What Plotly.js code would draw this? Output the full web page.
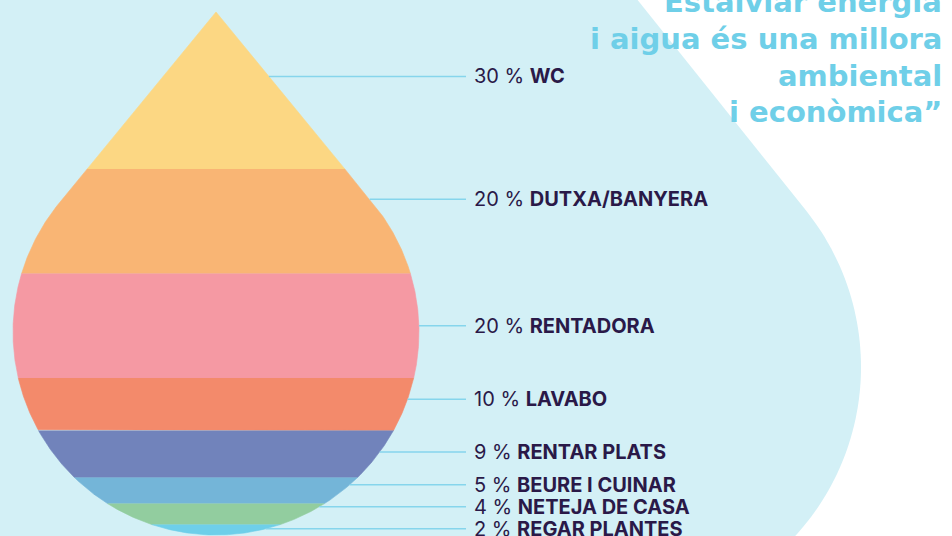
<!DOCTYPE html>
<html><head><meta charset="utf-8">
<script src="https://cdn.plot.ly/plotly-3.0.1.min.js"></script>
<style>html,body{margin:0;padding:0;background:#fff;overflow:hidden}#chart{width:952px;height:536px}</style>
</head><body><div id="chart"></div>
<script>
// ---- data ----
const categories = ['WC','DUTXA/BANYERA','RENTADORA','LAVABO','RENTAR PLATS','BEURE I CUINAR','NETEJA DE CASA','REGAR PLANTES'];
const shares = [30, 20, 20, 10, 9, 5, 4, 2];
const colors = ['#fcd783','#f9b574','#f599a3','#f38a6b','#7183bb','#74b5d8','#92cd9f','#6ecfe9'];
const quoteLines = ['Estalviar energia','i aigua és una millora','ambiental','i econòmica”'];

// ---- layout geometry ----
const W = 952, H = 536;
const yMin = -0.19, yMax = 102.29;           // percent axis
const k = H / (yMax - yMin);                 // px per percent unit
const pxOf = v => H - (v - yMin) * k;
const vOf = p => yMin + (H - p) / k;
const total = shares.reduce((a, b) => a + b, 0);

const cx = 216, R = 203;
const tipPx = pxOf(total), botPx = pxOf(0);
const cy = botPx - R;
const dTip = cy - tipPx, cosA = R / dTip, sinA = Math.sqrt(1 - cosA * cosA);
const tanY = cy - R * cosA;
const slope = (R * sinA) / (tanY - tipPx);
function halfW(p) {
  if (p <= tipPx) return 0;
  if (p <= tanY) return (p - tipPx) * slope;
  const d = p - cy;
  return Math.sqrt(Math.max(0, R * R - d * d));
}

const traces = [];
let cum = 0;
const bandTops = [], bandBots = [];
shares.forEach((s, i) => {
  const vTop = total - cum, vBot = total - cum - s;
  cum += s;
  bandTops.push(vTop); bandBots.push(vBot);
  const n = 80, xs = [], ys = [];
  for (let j = 0; j <= n; j++) {
    const v = vTop - (vTop - vBot) * j / n;
    xs.push(cx + halfW(pxOf(v))); ys.push(v);
  }
  for (let j = n; j >= 0; j--) {
    const v = vTop - (vTop - vBot) * j / n;
    xs.push(cx - halfW(pxOf(v))); ys.push(v);
  }
  traces.push({type: 'scatter', mode: 'lines', x: xs, y: ys, fill: 'toself',
    fillcolor: colors[i], line: {color: colors[i], width: 0.6},
    hoverinfo: 'text', text: shares[i] + ' % ' + categories[i], showlegend: false});
});

// label placement: band centre, nudged, with minimum spacing from the bottom up
const labelNudge = [-14, -22, 0, -5, -2, 0, 0, -1];
const labelPx = shares.map((s, i) => pxOf((bandTops[i] + bandBots[i]) / 2) + labelNudge[i]);
for (let i = labelPx.length - 2; i >= 0; i--) {
  if (labelPx[i] > labelPx[i + 1] - 22) labelPx[i] = labelPx[i + 1] - 22;
}

const annotations = [];
const lineEndX = 466, textX = 472;
labelPx.forEach((p, i) => {
  const x0 = cx + halfW(p);
  traces.push({type: 'scatter', mode: 'lines', x: [x0, lineEndX], y: [vOf(p), vOf(p)],
    line: {color: '#86d5ec', width: 1.4}, hoverinfo: 'skip', showlegend: false});
  annotations.push({x: textX, y: vOf(p), xref: 'x', yref: 'y', xanchor: 'left', yanchor: 'middle',
    showarrow: false, text: shares[i] + ' % <b>' + categories[i] + '</b>',
    font: {family: 'Inter, "Open Sans", sans-serif', size: 20, color: '#2a1948'}});
});

// quote lines (pixel y axis y2), anchored at baseline-ish position and shifted up
const quoteBase = [10, 47, 84, 120];
quoteLines.forEach((t, i) => {
  annotations.push({x: 944, y: quoteBase[i], xref: 'x', yref: 'y2', xanchor: 'right', yanchor: 'middle',
    yshift: 8, showarrow: false, text: '<b>' + t + '</b>',
    font: {family: '"DejaVu Sans", sans-serif', size: 29, color: '#6fcfe8'}});
});

// background drop path (pixel units, x / y2)
const bcx = 611, bcy = 367, bR = 250;
const lx0 = 637.6;
const tanPt = [bcx + bR * 0.781, bcy - bR * 0.625];
let path = 'M -20 -20 L ' + (lx0 - 16) + ' -20 L ' + tanPt[0] + ' ' + tanPt[1];
const a0 = Math.atan2(tanPt[1] - bcy, tanPt[0] - bcx);
const a1 = Math.atan2(560 - bcy, Math.sqrt(bR * bR - (560 - bcy) ** 2));
for (let j = 1; j <= 60; j++) {
  const a = a0 + (a1 - a0) * j / 60;
  path += ' L ' + (bcx + bR * Math.cos(a)).toFixed(2) + ' ' + (bcy + bR * Math.sin(a)).toFixed(2);
}
path += ' L -20 560 Z';

const layout = {
  width: W, height: H, margin: {l: 0, r: 0, t: 0, b: 0},
  paper_bgcolor: '#ffffff', plot_bgcolor: 'rgba(0,0,0,0)',
  xaxis: {range: [0, W], visible: false, fixedrange: true},
  yaxis: {range: [yMin, yMax], visible: false, fixedrange: true},
  yaxis2: {range: [H, 0], visible: false, overlaying: 'y', fixedrange: true},
  shapes: [{type: 'path', xref: 'x', yref: 'y2', path: path, fillcolor: '#d3f0f6', line: {width: 0}, layer: 'below'}],
  annotations: annotations,
  showlegend: false
};
Plotly.newPlot('chart', traces, layout, {displayModeBar: false, staticPlot: true});
</script></body></html>
